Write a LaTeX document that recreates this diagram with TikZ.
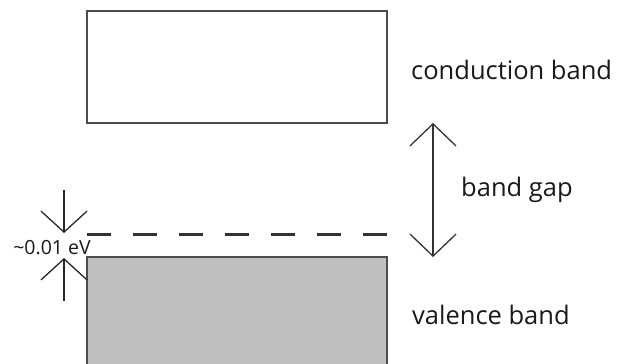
\documentclass[tikz,border=0pt]{standalone}
\usepackage{fontspec}
\setmainfont{Open Sans}
\usetikzlibrary{arrows.meta}
\begin{document}
\begin{tikzpicture}[x=1pt,y=-1pt,
  bandbox/.style={draw=black!70,line width=2pt},
  gaparrow/.style={draw=black!80,line width=1.3pt,
    arrows={Straight Barb[length=22pt,width=46pt,line width=1.3pt]-Straight Barb[length=22pt,width=46pt,line width=1.3pt]}},
  smallarrow/.style={draw=black!85,line width=1.3pt,
    -{Straight Barb[length=21pt,width=46pt,line width=1.3pt]}},
  level/.style={draw=black!80,line width=3pt,dash pattern=on 24pt off 22pt},
  label/.style={font=\fontsize{25.5}{29}\selectfont,text=black!90,anchor=west,inner sep=0pt},
  small/.style={font=\fontsize{19.5}{22}\selectfont,text=black!90,inner sep=0pt}]
  \useasboundingbox (0,0) rectangle (622,364);

  % conduction band
  \draw[bandbox,fill=white] (87,11) rectangle (387,123);
  \coordinate (cbbot) at (433,123);
  % valence band, running off the lower edge
  \draw[bandbox,fill=black!25] (87,380) -- (87,257) -- (387,257) -- (387,380);
  \coordinate (vbtop) at (433,257);

  % impurity level
  \draw[level] (87,234.5) -- (390,234.5);

  % band gap arrow
  \draw[gaparrow] (cbbot) -- (vbtop);

  % ~0.01 eV marker
  \coordinate (dtop) at (64,190);
  \coordinate (dtip) at (64,233);
  \coordinate (utip) at (64,258);
  \coordinate (ubot) at (64,301);
  \draw[smallarrow] (dtop) -- (dtip);
  \draw[smallarrow] (ubot) -- (utip);
  \node[small] (gapsmall) at (52,247.5) {\textasciitilde0.01 eV};

  \node[label] (cb) at (411,70) {conduction band};
  \node[label] (bg) at (461,190) {band gap};
  \node[label] (vb) at (412,315) {valence band};
\end{tikzpicture}
\end{document}
